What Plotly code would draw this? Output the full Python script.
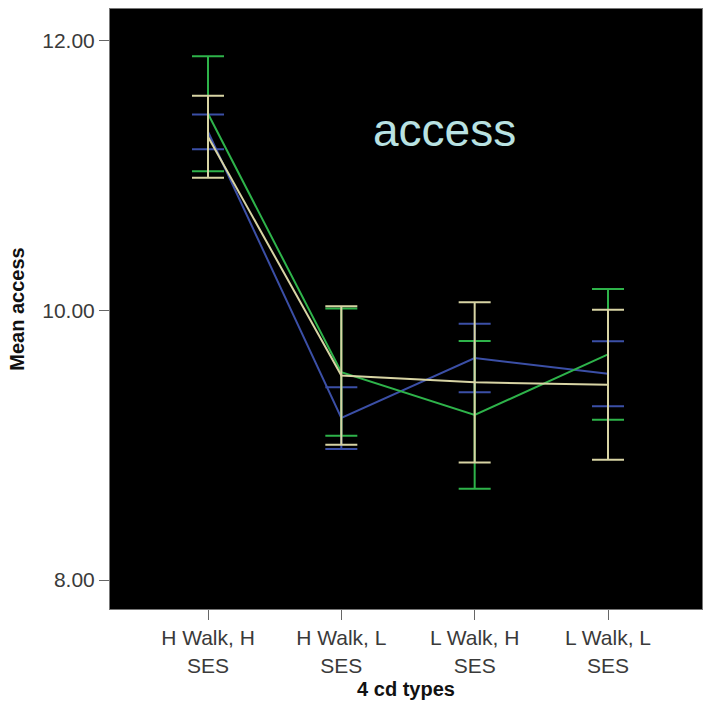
import plotly.graph_objects as go

# Four community types on the x axis
categories = ["H Walk, H<br>SES", "H Walk, L<br>SES", "L Walk, H<br>SES", "L Walk, L<br>SES"]
x_pos = [0, 1, 2, 3]

# Mean access per group and half-width of the error bars
blue_mean = [11.326, 9.202, 9.647, 9.531]
blue_err = [0.129, 0.229, 0.254, 0.241]

green_mean = [11.460, 9.542, 9.225, 9.674]
green_err = [0.426, 0.472, 0.548, 0.485]

tan_mean = [11.289, 9.517, 9.467, 9.449]
tan_err = [0.304, 0.514, 0.595, 0.557]

y_ticks = [8, 10, 12]

series = [
    ("Group A", blue_mean, blue_err, "#3b4fa6"),
    ("Group B", green_mean, green_err, "#2eb34a"),
    ("Group C", tan_mean, tan_err, "#d8d4a4"),
]

fig = go.Figure()
for name, mean, err, color in series:
    fig.add_trace(go.Scatter(
        x=x_pos, y=mean, name=name, mode="lines",
        line=dict(color=color, width=2),
        error_y=dict(type="data", array=err, visible=True,
                     color=color, thickness=2, width=16),
        showlegend=False,
    ))

# Chart label inside the plot area
fig.add_annotation(
    text="access", xref="paper", yref="paper",
    x=(444 - 110) / 592, y=1 - (130 - 9) / 600,
    xanchor="center", yanchor="middle", showarrow=False,
    font=dict(size=46, color="#b9e2e2", family="Arial, Liberation Sans"),
)

family = "Arial, Liberation Sans"
tick_font = dict(family=family, size=21, color="#3a3a3a")
title_font = dict(family=family, size=20, color="#111111")

fig.update_layout(
    width=704, height=709,
    margin=dict(l=110, r=2, t=9, b=100),
    paper_bgcolor="white", plot_bgcolor="black",
    font=tick_font,
    xaxis=dict(
        range=[-0.735, 3.705], tickvals=x_pos, ticktext=categories,
        ticks="outside", ticklen=10, tickcolor="#666666", tickwidth=1,
        showgrid=False, zeroline=False,
        showline=True, linecolor="#777777", linewidth=1, mirror=True,
        title=dict(text="<b>4 cd types</b>", font=title_font, standoff=6),
        tickfont=tick_font,
    ),
    yaxis=dict(
        range=[7.785, 12.237], tickvals=y_ticks, tickformat=".2f",
        ticks="outside", ticklen=10, tickcolor="#666666", tickwidth=1,
        showgrid=False, zeroline=False,
        showline=True, linecolor="#777777", linewidth=1, mirror=True,
        title=dict(text="<b>Mean access</b>", font=title_font, standoff=12),
        tickfont=tick_font,
    ),
)

fig.write_html("out.html")
